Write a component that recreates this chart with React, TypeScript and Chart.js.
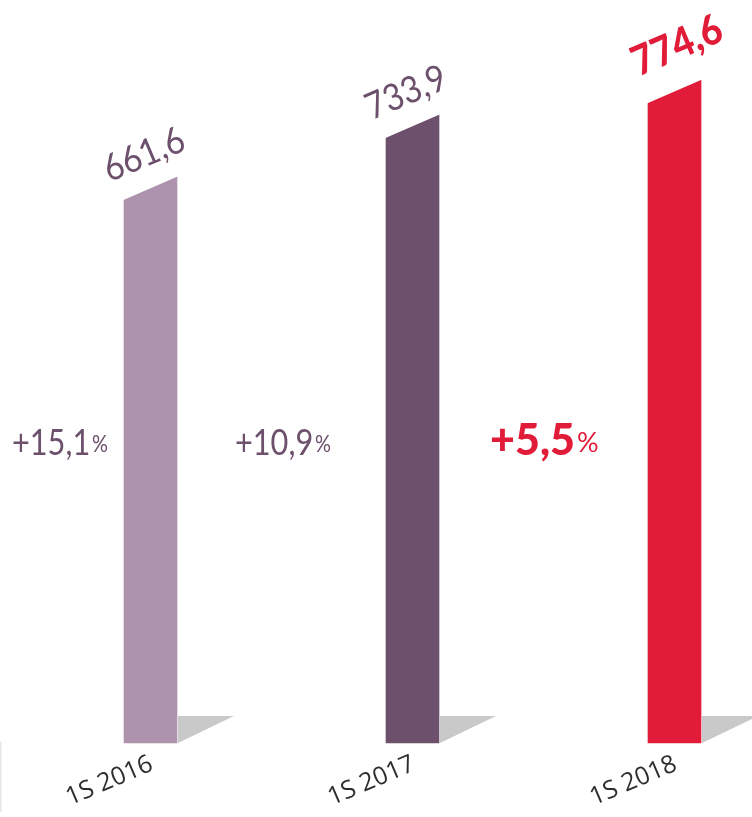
import React, { useEffect, useRef } from "react";
import { Chart, registerables } from "chart.js";

Chart.register(...registerables);

const categories = ["1S 2016", "1S 2017", "1S 2018"];
const values = [661.6, 733.9, 774.6];
const valueLabels = ["661,6", "733,9", "774,6"];
const growthLabels = ["+15,1", "+10,9", "+5,5"];
const highlight = [false, false, true];

const barColors = ["#ad93ad", "#6c506c", "#e11c39"];
const textPurple = "#6c506c";
const red = "#e11c39";
const pctOffsets = [112, 151, 158];

const decorPlugin = {
  id: "decor",
  afterDatasetsDraw(chart: any) {
    const ctx = chart.ctx as CanvasRenderingContext2D;
    const meta = chart.getDatasetMeta(0);
    const ang = (-23 * Math.PI) / 180;
    ctx.save();
    // faint left line
    ctx.fillStyle = "#e6e6e6";
    ctx.fillRect(0, 742, 1.5, 70);
    meta.data.forEach((bar: any, i: number) => {
      const w = bar.width;
      const left = bar.x - w / 2;
      const right = bar.x + w / 2;
      const top = bar.y;
      const base = bar.base;
      // slanted top cut
      ctx.fillStyle = "#ffffff";
      ctx.beginPath();
      ctx.moveTo(left - 1, top - 1);
      ctx.lineTo(right + 1, top - 1);
      ctx.lineTo(right, top);
      ctx.lineTo(left, top + 23);
      ctx.lineTo(left - 1, top + 23.5);
      ctx.closePath();
      ctx.fill();
      // shadow
      ctx.fillStyle = "#c9c9c9";
      ctx.beginPath();
      ctx.moveTo(right + 1, base - 27);
      ctx.lineTo(right + 57, base - 27);
      ctx.lineTo(right + 1, base);
      ctx.closePath();
      ctx.fill();

      const hl = highlight[i];
      // value label
      ctx.save();
      const cx = bar.x + (hl ? 2.5 : -6.5);
      const cy = top - (hl ? 34 : 22);
      ctx.translate(cx, cy);
      ctx.rotate(ang);
      ctx.scale(0.9, 1);
      ctx.textAlign = "center";
      ctx.textBaseline = "middle";
      ctx.fillStyle = hl ? red : textPurple;
      ctx.font = hl ? "900 41px Lato" : "400 37px Lato";
      ctx.fillText(valueLabels[i], 0, 0);
      ctx.restore();

      // growth label
      const gx = left - pctOffsets[i];
      const gy = 455;
      ctx.save();
      ctx.translate(gx, gy);
      ctx.scale(hl ? 1 : 0.83, 1);
      ctx.fillStyle = hl ? red : textPurple;
      ctx.textAlign = "left";
      ctx.textBaseline = "alphabetic";
      ctx.font = hl ? "900 43px Lato" : "400 37px Lato";
      ctx.fillText(growthLabels[i], 0, 0);
      const gw = ctx.measureText(growthLabels[i]).width;
      ctx.font = hl ? "400 27px Lato" : "400 24px Lato";
      ctx.fillText("%", gw + 2, -3);
      ctx.restore();

      // category label
      ctx.save();
      ctx.translate(bar.x - 41, 781);
      ctx.rotate(ang);
      ctx.textAlign = "center";
      ctx.textBaseline = "middle";
      ctx.fillStyle = "#2e2e2e";
      ctx.font = "500 25px 'Open Sans'";
      ctx.fillText(categories[i], 0, 0);
      ctx.restore();
    });
    ctx.restore();
  },
};

export default function App() {
  const ref = useRef<HTMLCanvasElement | null>(null);
  useEffect(() => {
    document.body.style.margin = "0";
    const chart = new Chart(ref.current as HTMLCanvasElement, {
      type: "bar",
      data: {
        labels: categories,
        datasets: [
          {
            data: values,
            backgroundColor: barColors,
            borderWidth: 0,
            barThickness: 53,
            clip: false,
          } as any,
        ],
      },
      options: {
        responsive: false,
        animation: false,
        layout: { padding: { left: 150.5, right: 77.5, top: 0, bottom: 74 } },
        plugins: { legend: { display: false }, tooltip: { enabled: false } },
        scales: {
          x: { display: false, offset: false },
          y: { display: false, min: 0, max: 868 },
        },
      },
      plugins: [decorPlugin],
    });
    return () => chart.destroy();
  }, []);
  return (
    <div style={{ position: "absolute", left: 0, top: 0, width: 752, height: 817 }}>
      <canvas ref={ref} width={752} height={817} />
    </div>
  );
}
